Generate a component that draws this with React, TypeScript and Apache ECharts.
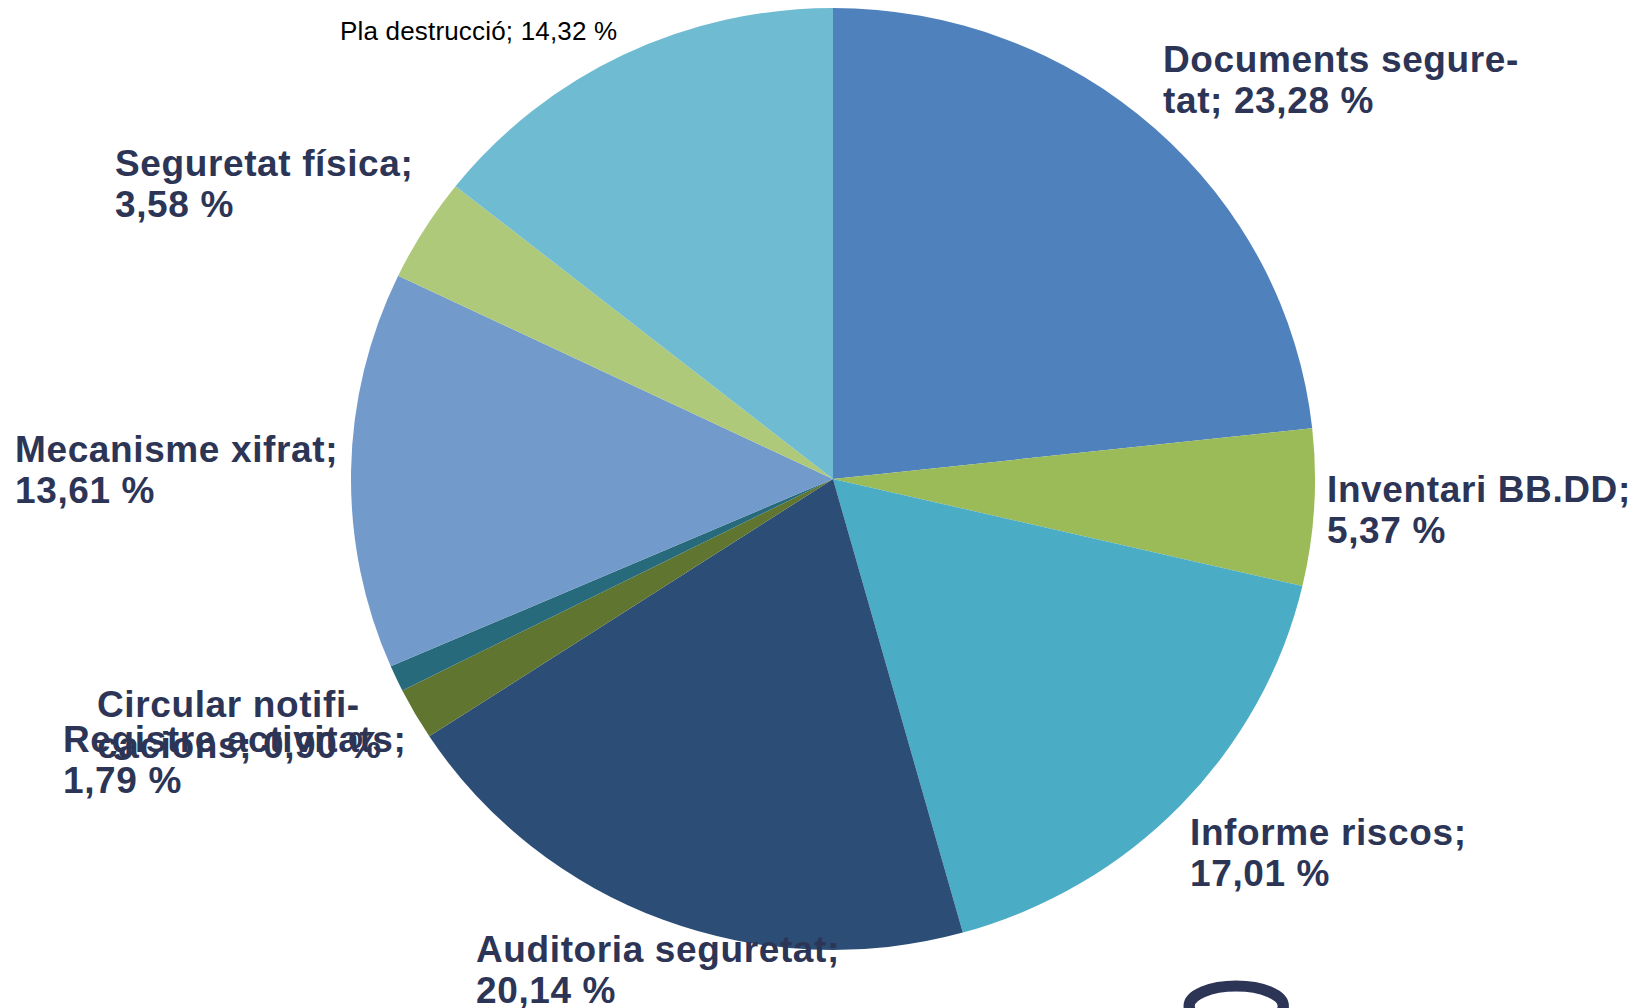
import React, { useEffect, useRef } from "react";
import * as echarts from "echarts";

const categories = ["Documents seguretat","Inventari BB.DD","Informe riscos","Auditoria seguretat","Registre activitats","Circular notificacions","Mecanisme xifrat","Seguretat física","Pla destrucció"];
const values = [23.28,5.37,17.01,20.14,1.79,0.9,13.61,3.58,14.32];
const colors = ["#4F81BD","#9BBB59","#4BACC6","#2C4D75","#5F7530","#276A7C","#729ACA","#AFC97A","#6FBBD1"];
const labelTexts = ["Documents segure-\ntat; 23,28 %","Inventari BB.DD;\n5,37 %","Informe riscos;\n17,01 %","Auditoria seguretat;\n20,14 %","Registre activitats;\n1,79 %","Circular notifi-\ncacions; 0,90 %","Mecanisme xifrat;\n13,61 %","Seguretat física;\n3,58 %","Pla destrucció; 14,32 %"];
const labelX = [1163,1327,1190,476,63,97,15,115,340];
const labelY = [39,469,812,929,719,684,429,143,16];

const css = `
svg path { transform-box: view-box; transform-origin: 833px 479px; transform: scaleX(1.0234); }
svg text[style*="bold"] { letter-spacing: 0.62px; }
svg text:not([style*="bold"]) { letter-spacing: 0.18px; }
`;

export default function App() {
  const ref = useRef<HTMLDivElement>(null);
  useEffect(() => {
    document.body.style.margin = "0";
    document.body.style.overflow = "hidden";
    const chart = echarts.init(ref.current!, null, { renderer: "svg" });
    chart.setOption({
      animation: false,
      graphic: [{ type: "ellipse", shape: { cx: 1227, cy: 1006, rx: 46, ry: 20 }, style: { fill: "none", stroke: "#2D3556", lineWidth: 11 } }],
      series: [{
        type: "pie",
        center: [833, 479],
        radius: [0, 471],
        startAngle: 90,
        avoidLabelOverlap: false,
        labelLine: { show: false },
        data: categories.map((name, i) => {
          const small = i === 8;
          return {
            name,
            value: values[i],
            itemStyle: { color: colors[i] },
            label: {
              show: true,
              formatter: labelTexts[i],
              color: small ? "#000" : "#2D3556",
              fontFamily: "Liberation Sans",
              fontWeight: small ? "normal" : "bold",
              fontSize: small ? 26 : 37,
              lineHeight: small ? 30 : 41,
            },
          };
        }),
        labelLayout: (p: any) => ({ x: labelX[p.dataIndex], y: labelY[p.dataIndex], align: "left", verticalAlign: "top" }),
      }],
    });
    return () => chart.dispose();
  }, []);
  return (
    <>
      <style>{css}</style>
      <div ref={ref} style={{ width: 1636, height: 1008 }} />
    </>
  );
}
